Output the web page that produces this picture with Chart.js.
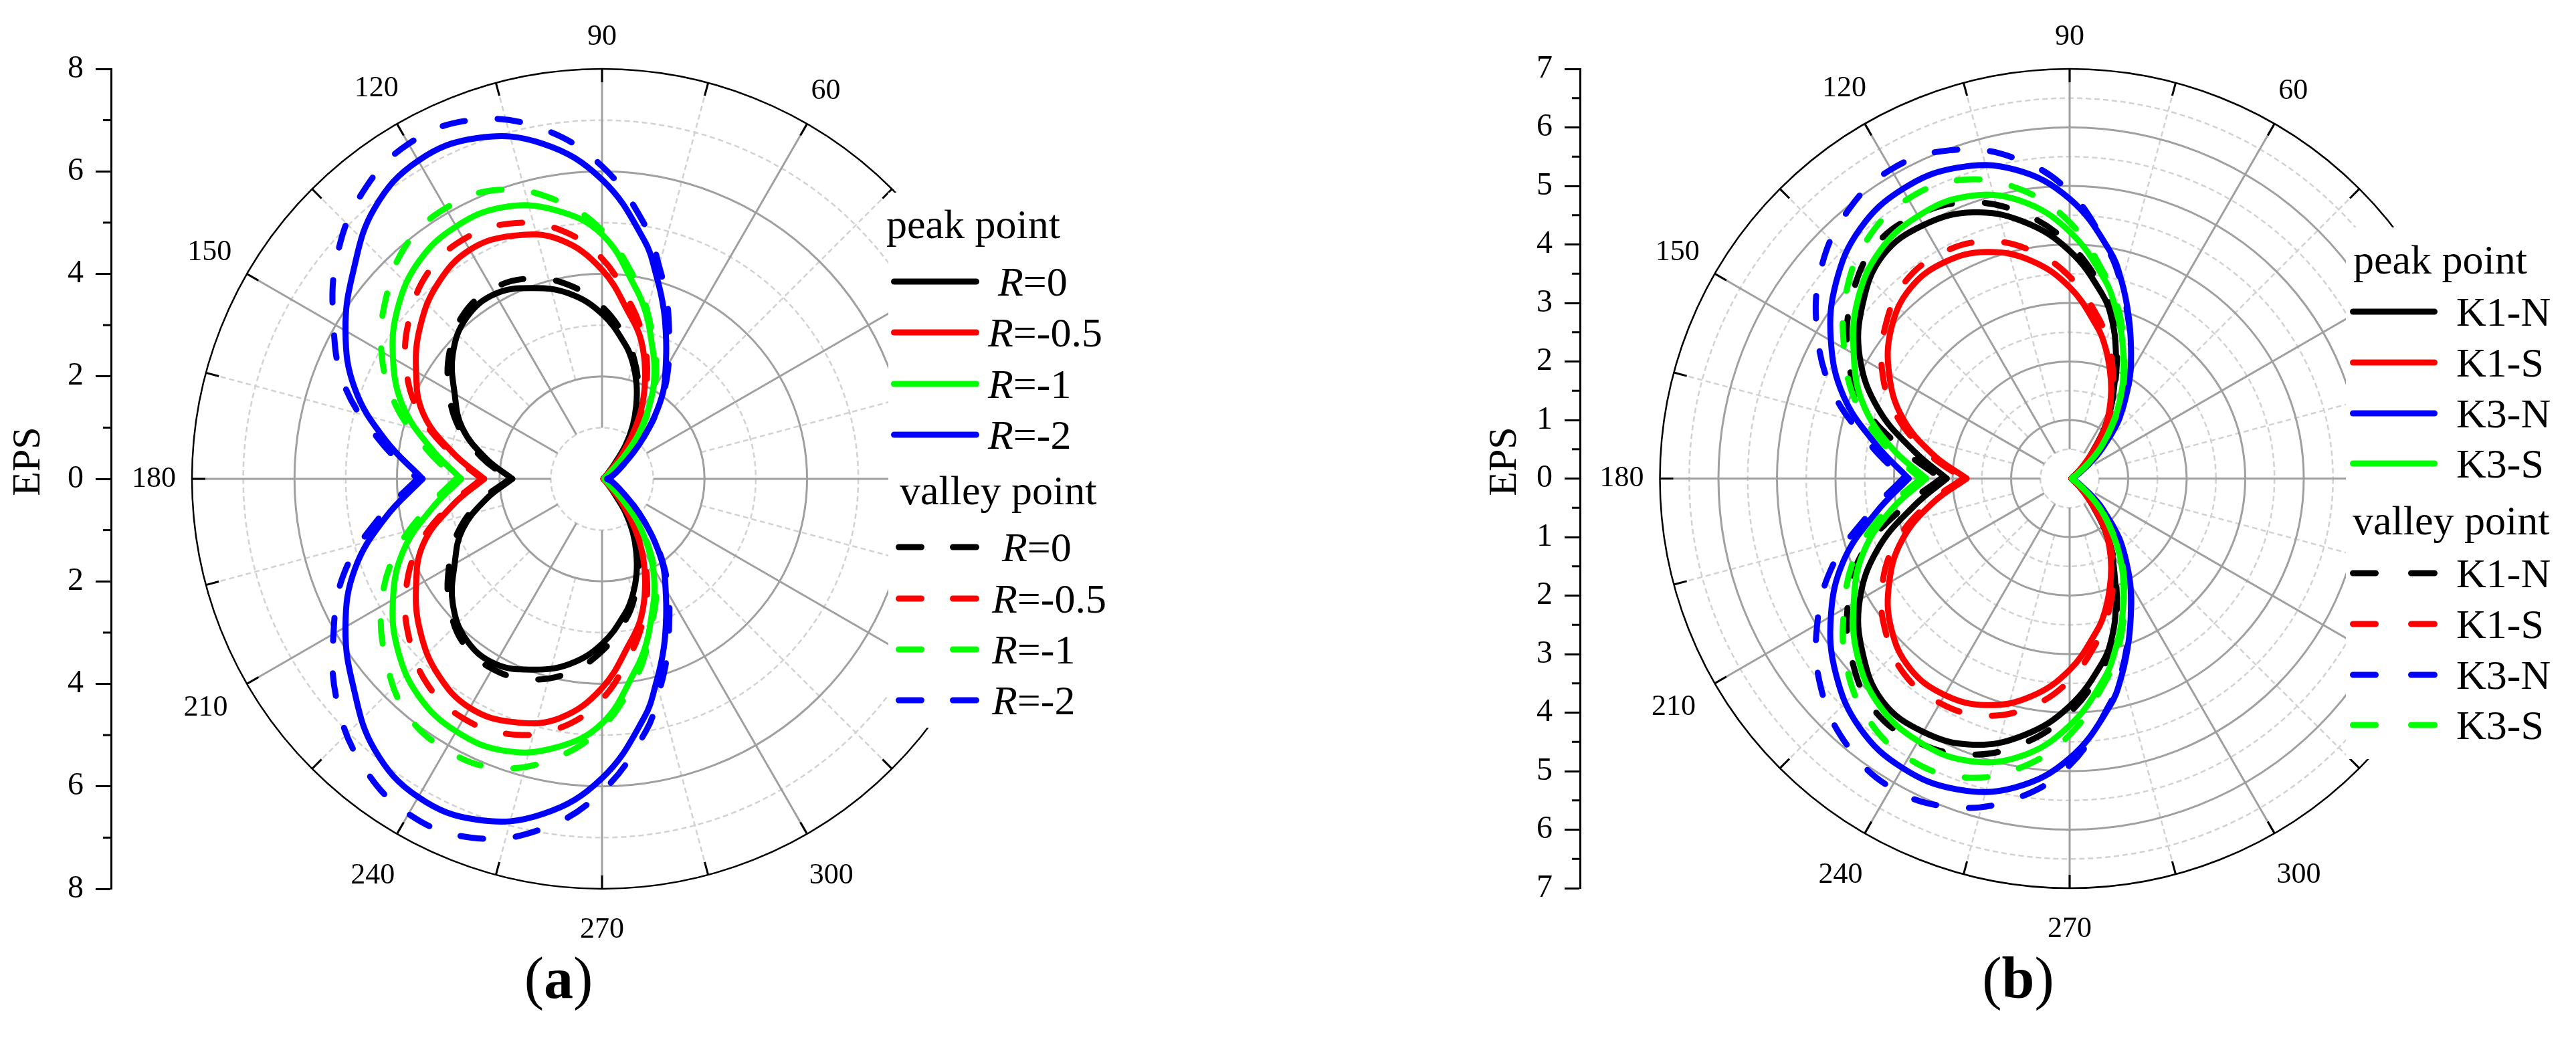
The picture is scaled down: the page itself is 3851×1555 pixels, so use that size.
<!DOCTYPE html>
<html>
<head>
<meta charset="utf-8">
<script src="https://cdn.jsdelivr.net/npm/chart.js@4.4.1/dist/chart.umd.min.js"></script>
<style>
  html, body { margin: 0; padding: 0; background: #fff; }
  #wrap { position: relative; width: 3851px; height: 1555px; background: #fff; }
  canvas { position: absolute; top: 0; }
  #chartA { left: 0; }
  #chartB { left: 1925px; }
</style>
</head>
<body>
<div id="wrap">
  <canvas id="chartA" width="1925" height="1555"></canvas>
  <canvas id="chartB" width="1926" height="1555"></canvas>
</div>
<script>
// polar angle of every sample (degrees), shared by all series
const angles = [0, 15, 30, 40, 45, 50, 55, 60, 65, 70, 75, 80, 90, 100, 110, 120, 130, 140, 150, 160, 170, 180,
  190, 200, 210, 220, 230, 240, 250, 260, 270, 280, 285, 290, 295, 300, 305, 310, 315, 320, 330, 345, 360];

// ---- panel (a): EPS for R values ----
const peakR0 = [0.03,0.03,0.06,0.12,0.2,0.38,0.8,1.2,1.58,1.97,2.33,2.65,3.22,3.67,3.96,4.17,4.11,3.8,3.32,2.9,2.3,1.75,
  2.3,2.9,3.32,3.8,4.11,4.17,3.96,3.67,3.22,2.65,2.33,1.97,1.58,1.2,0.8,0.38,0.2,0.12,0.06,0.03,0.03];
const valleyR0 = [0.03,0.03,0.06,0.12,0.2,0.4,0.85,1.28,1.66,2.05,2.42,2.76,3.36,3.85,4.16,4.28,4.2,3.88,3.45,2.98,2.38,1.8,
  2.38,2.98,3.45,3.88,4.2,4.28,4.16,3.85,3.36,2.76,2.42,2.05,1.66,1.28,0.85,0.4,0.2,0.12,0.06,0.03,0.03];
const peakR05 = [0.03,0.03,0.07,0.13,0.25,0.55,1.0,1.5,1.97,2.43,2.87,3.22,4.08,4.74,5.05,5.16,4.98,4.63,4.19,3.71,2.96,2.3,
  2.96,3.71,4.19,4.63,4.98,5.16,5.05,4.74,4.08,3.22,2.87,2.43,1.97,1.5,1.0,0.55,0.25,0.13,0.07,0.03,0.03];
const valleyR05 = [0.03,0.03,0.07,0.13,0.25,0.56,1.04,1.58,2.06,2.54,2.98,3.4,4.3,4.95,5.3,5.4,5.27,4.9,4.42,3.8,3.02,2.35,
  3.02,3.8,4.42,4.9,5.27,5.4,5.3,4.95,4.3,3.4,2.98,2.54,2.06,1.58,1.04,0.56,0.25,0.13,0.07,0.03,0.03];
const peakR1 = [0.05,0.05,0.1,0.22,0.55,1.05,1.5,1.98,2.42,2.83,3.33,3.78,4.77,5.33,5.64,5.69,5.55,5.2,4.71,4.13,3.38,2.75,
  3.38,4.13,4.71,5.2,5.55,5.69,5.64,5.33,4.77,3.78,3.33,2.83,2.42,1.98,1.5,1.05,0.55,0.22,0.1,0.05,0.05];
const valleyR1 = [0.05,0.05,0.1,0.22,0.55,1.07,1.55,2.04,2.5,2.9,3.4,3.9,4.85,5.55,6.0,6.1,5.95,5.5,4.97,4.3,3.5,2.85,
  3.5,4.3,4.97,5.5,5.95,6.1,6.0,5.55,4.85,3.9,3.4,2.9,2.5,2.04,1.55,1.07,0.55,0.22,0.1,0.05,0.05];
const peakR2 = [0.1,0.2,0.4,0.8,1.15,1.6,2.08,2.48,2.96,3.52,4.1,4.73,5.84,6.64,7.08,7.17,6.9,6.33,5.78,5.13,4.28,3.5,
  4.28,5.13,5.78,6.33,6.9,7.17,7.08,6.64,5.84,4.73,4.1,3.52,2.96,2.48,2.08,1.6,1.15,0.8,0.4,0.2,0.1];
const valleyR2 = [0.1,0.2,0.4,0.8,1.15,1.62,2.12,2.6,3.1,3.7,4.3,4.98,6.1,6.95,7.45,7.55,7.28,6.75,6.05,5.35,4.42,3.6,
  4.42,5.35,6.05,6.75,7.28,7.55,7.45,6.95,6.1,4.98,4.3,3.7,3.1,2.6,2.12,1.62,1.15,0.8,0.4,0.2,0.1];
const labelsA = ['R=0', 'R=-0.5', 'R=-1', 'R=-2'];

// ---- panel (b): EPS for K1/K3 specimens ----
const peakK1N = [0.03,0.04,0.08,0.24,0.42,0.63,1.02,1.42,1.82,2.31,2.8,3.2,3.89,4.45,4.84,5.0,4.97,4.62,4.14,3.48,2.7,2.1,
  2.7,3.48,4.14,4.62,4.97,5.0,4.84,4.45,3.89,3.2,2.8,2.31,1.82,1.42,1.02,0.63,0.42,0.24,0.08,0.04,0.03];
const valleyK1N = [0.03,0.04,0.08,0.25,0.43,0.66,1.05,1.46,1.86,2.36,2.86,3.28,4.0,4.6,5.02,5.2,5.18,4.85,4.38,3.78,2.9,2.2,
  2.9,3.78,4.38,4.85,5.18,5.2,5.02,4.6,4.0,3.28,2.86,2.36,1.86,1.46,1.05,0.66,0.43,0.25,0.08,0.04,0.03];
const peakK1S = [0.03,0.04,0.08,0.22,0.38,0.64,1.04,1.36,1.68,2.0,2.34,2.65,3.27,3.78,4.12,4.27,4.24,3.98,3.56,3.04,2.37,1.76,
  2.37,3.04,3.56,3.98,4.24,4.27,4.12,3.78,3.27,2.65,2.34,2.0,1.68,1.36,1.04,0.64,0.38,0.22,0.08,0.04,0.03];
const valleyK1S = [0.03,0.04,0.08,0.22,0.39,0.66,1.07,1.42,1.76,2.12,2.46,2.8,3.45,3.97,4.31,4.43,4.38,4.1,3.7,3.15,2.45,1.82,
  2.45,3.15,3.7,4.1,4.38,4.43,4.31,3.97,3.45,2.8,2.46,2.12,1.76,1.42,1.07,0.66,0.39,0.22,0.08,0.04,0.03];
const peakK3N = [0.05,0.07,0.2,0.6,0.9,1.3,1.66,2.07,2.48,2.95,3.46,3.95,4.78,5.36,5.65,5.71,5.57,5.21,4.71,4.11,3.36,2.75,
  3.36,4.11,4.71,5.21,5.57,5.71,5.65,5.36,4.78,3.95,3.46,2.95,2.48,2.07,1.66,1.3,0.9,0.6,0.2,0.07,0.05];
const valleyK3N = [0.05,0.07,0.2,0.6,0.9,1.3,1.66,2.07,2.48,2.92,3.42,3.92,4.9,5.57,5.97,6.1,5.93,5.55,4.98,4.3,3.48,2.85,
  3.48,4.3,4.98,5.55,5.93,6.1,5.97,5.57,4.9,3.92,3.42,2.92,2.48,2.07,1.66,1.3,0.9,0.6,0.2,0.07,0.05];
const peakK3S = [0.04,0.05,0.15,0.45,0.75,1.05,1.42,1.8,2.18,2.6,3.02,3.45,4.22,4.82,5.13,5.18,5.06,4.73,4.26,3.76,3.1,2.45,
  3.1,3.76,4.26,4.73,5.06,5.18,5.13,4.82,4.22,3.45,3.02,2.6,2.18,1.8,1.42,1.05,0.75,0.45,0.15,0.05,0.04];
const valleyK3S = [0.04,0.05,0.15,0.45,0.76,1.07,1.45,1.84,2.22,2.66,3.1,3.52,4.38,5.03,5.43,5.52,5.36,4.98,4.45,3.9,3.2,2.55,
  3.2,3.9,4.45,4.98,5.36,5.52,5.43,5.03,4.38,3.52,3.1,2.66,2.22,1.84,1.45,1.07,0.76,0.45,0.15,0.05,0.04];
const labelsB = ['K1-N', 'K1-S', 'K3-N', 'K3-S'];

const FONT = '"Liberation Serif", "Times New Roman", serif';
Chart.defaults.font.family = FONT;
Chart.defaults.color = '#000';

const HALF = angles.indexOf(180);

function polarPoints(r, from, to) {
    const pts = [];
    for (let i = from; i <= to; i++) {
        const a = angles[i] * Math.PI / 180;
        pts.push({ x: r[i] * Math.cos(a), y: r[i] * Math.sin(a) });
    }
    return pts;
}

// each curve is split at 180 deg so the notch stays sharp
function buildDatasets(series) {
    const sets = [];
    series.forEach(s => {
        [[0, HALF], [HALF, angles.length - 1]].forEach(([a, b]) => {
            sets.push({
                label: s.label,
                data: polarPoints(s.r, a, b),
                showLine: true,
                pointRadius: 0,
                borderColor: s.color,
                borderWidth: 9,
                borderDash: s.dashed ? [34, 49] : [],
                borderCapStyle: 'round',
                borderJoinStyle: 'round',
                tension: 0.4,
                fill: false
            });
        });
    });
    return sets.reverse(); // first series ends up at the bottom
}

// circles, spokes and angle labels of the polar frame
const polarGrid = {
    id: 'polarGrid',
    beforeDatasetsDraw(chart, args, o) {
        const { ctx, scales: { x, y } } = chart;
        const cx = x.getPixelForValue(0), cy = y.getPixelForValue(0);
        const ppu = cy - y.getPixelForValue(1);
        const R = o.rMax * ppu;
        const circle = r => { ctx.beginPath(); ctx.arc(cx, cy, r, 0, Math.PI * 2); ctx.stroke(); };
        const spoke = (deg, r1, r2) => {
            const a = deg * Math.PI / 180;
            ctx.beginPath();
            ctx.moveTo(cx + r1 * Math.cos(a), cy - r1 * Math.sin(a));
            ctx.lineTo(cx + r2 * Math.cos(a), cy - r2 * Math.sin(a));
            ctx.stroke();
        };
        ctx.save();
        ctx.strokeStyle = '#d2d2d2';
        ctx.lineWidth = 2.5;
        ctx.setLineDash([8, 5]);
        for (let v = o.minor; v < o.rMax; v += o.major) circle(v * ppu);
        for (let a = 15; a < 360; a += 30) spoke(a, o.major * ppu, R);
        ctx.setLineDash([]);
        ctx.strokeStyle = '#a0a0a0';
        ctx.lineWidth = 3;
        for (let v = o.major; v < o.rMax - 1e-6; v += o.major) circle(v * ppu);
        for (let a = 0; a < 360; a += 30) spoke(a, o.minor * ppu, R);
        ctx.strokeStyle = '#000';
        ctx.lineWidth = 2.5;
        circle(R);
        ctx.lineWidth = 3;
        for (let a = 0; a < 360; a += 15) spoke(a, R - 20, R);
        ctx.fillStyle = '#000';
        ctx.font = '44px ' + FONT;
        ctx.textAlign = 'center';
        ctx.textBaseline = 'middle';
        for (let a = 0; a < 360; a += 30) {
            const t = a * Math.PI / 180, c = Math.cos(t), s = Math.sin(t);
            const w = ctx.measureText(String(a)).width;
            const d = R + 24 + (s > 0 ? 7 : 20) * Math.abs(s) + Math.abs(c) * w / 2 + Math.abs(s) * 17;
            ctx.fillText(String(a), cx + d * c, cy - d * s);
        }
        ctx.restore();
    }
};

// minor ticks, axis title, panel tag and the two-part legend
const figureDecor = {
    id: 'figureDecor',
    afterDraw(chart, args, o) {
        const { ctx, chartArea, scales: { y } } = chart;
        ctx.save();
        ctx.strokeStyle = '#000';
        ctx.lineWidth = 3;
        for (let v = -o.rMax + o.minor; v < o.rMax; v += o.major) {
            const py = y.getPixelForValue(v);
            ctx.beginPath();
            ctx.moveTo(chartArea.left, py);
            ctx.lineTo(chartArea.left - 12, py);
            ctx.stroke();
        }
        ctx.fillStyle = '#000';
        // EPS
        ctx.save();
        ctx.translate(o.titleX, o.titleY);
        ctx.rotate(-Math.PI / 2);
        ctx.font = '60px ' + FONT;
        ctx.textAlign = 'center';
        ctx.textBaseline = 'middle';
        ctx.fillText('EPS', 0, 0);
        ctx.restore();
        // (a) / (b)
        ctx.textBaseline = 'alphabetic';
        ctx.textAlign = 'left';
        ctx.font = '88px ' + FONT;
        const wp = ctx.measureText('(').width;
        ctx.font = 'bold 88px ' + FONT;
        const wl = ctx.measureText(o.tag).width;
        let tx = o.tagX - (2 * wp + wl) / 2;
        ctx.font = '88px ' + FONT;
        ctx.fillText('(', tx, o.tagY);
        ctx.font = 'bold 88px ' + FONT;
        ctx.fillText(o.tag, tx + wp, o.tagY);
        ctx.font = '88px ' + FONT;
        ctx.fillText(')', tx + wp + wl, o.tagY);
        // legend
        const L = o.legend;
        ctx.fillStyle = '#fff';
        ctx.fillRect(L.box[0], L.box[1], L.box[2], L.box[3]);
        ctx.fillStyle = '#000';
        ctx.font = '62px ' + FONT;
        ctx.fillText('peak point', L.headX[0], L.headY[0] + 14);
        ctx.fillText('valley point', L.headX[1], L.headY[1] + 14);
        [false, true].forEach((dashed, g) => {
            L.labels.forEach((lab, i) => {
                const ry = L.rows[g][i];
                ctx.strokeStyle = L.colors[i];
                ctx.lineWidth = 9;
                ctx.lineCap = 'round';
                ctx.beginPath();
                if (dashed) {
                    const [x1, x2] = L.dashX;
                    ctx.moveTo(x1 + 4.5, ry); ctx.lineTo(x1 + 38.5, ry);
                    ctx.moveTo(x2 - 39.5, ry); ctx.lineTo(x2 - 4.5, ry);
                } else {
                    ctx.moveTo(L.lineX[0] + 4.5, ry); ctx.lineTo(L.lineX[1] - 4.5, ry);
                }
                ctx.stroke();
                const tx0 = L.textX[g][i], base = ry + 21;
                ctx.fillStyle = '#000';
                if (L.italicFirst) {
                    ctx.font = 'italic 62px ' + FONT;
                    ctx.fillText(lab[0], tx0, base);
                    const w = ctx.measureText(lab[0]).width;
                    ctx.font = '62px ' + FONT;
                    ctx.fillText(lab.slice(1), tx0 + w, base);
                } else {
                    ctx.font = '62px ' + FONT;
                    ctx.fillText(lab, tx0, base);
                }
            });
        });
        ctx.restore();
    }
};

function makeChart(id, cfg) {
    const top = 103;
    const ppu = (cfg.bottom - top) / (2 * cfg.rMax);
    const xHalf = (cfg.cx - cfg.left) / ppu;
    const canvas = document.getElementById(id);
    return new Chart(canvas.getContext('2d'), {
        type: 'scatter',
        data: { datasets: buildDatasets(cfg.series) },
        options: {
            responsive: false,
            animation: false,
            devicePixelRatio: 1,
            events: [],
            layout: {
                padding: { left: 0, top: top, right: canvas.width - (cfg.cx + (cfg.cx - cfg.left)), bottom: canvas.height - cfg.bottom }
            },
            plugins: {
                legend: { display: false },
                tooltip: { enabled: false },
                polarGrid: { rMax: cfg.rMax, major: cfg.major, minor: cfg.minor },
                figureDecor: {
                    rMax: cfg.rMax, major: cfg.major, minor: cfg.minor,
                    titleX: cfg.titleX, titleY: 690,
                    tag: cfg.tag, tagX: cfg.tagX, tagY: 1492,
                    legend: cfg.legend
                }
            },
            scales: {
                x: { type: 'linear', display: false, min: -xHalf, max: xHalf },
                y: {
                    type: 'linear',
                    position: 'left',
                    min: -cfg.rMax,
                    max: cfg.rMax,
                    afterFit: s => { s.width = cfg.left; },
                    ticks: {
                        stepSize: cfg.major,
                        autoSkip: false,
                        padding: 18,
                        color: '#000',
                        font: { size: 48 },
                        callback: v => Math.abs(v)
                    },
                    grid: { drawOnChartArea: false, drawTicks: true, tickLength: 23, tickWidth: 3, tickColor: '#000' },
                    border: { display: true, color: '#000', width: 3 }
                }
            }
        },
        plugins: [polarGrid, figureDecor]
    });
}

const colorsA = ['#000000', '#ff0000', '#00ff00', '#0000ff'];
const peaksA = [peakR0, peakR05, peakR1, peakR2];
const valleysA = [valleyR0, valleyR05, valleyR1, valleyR2];
const seriesA = [];
labelsA.forEach((lab, i) => {
    seriesA.push({ label: 'peak ' + lab, r: peaksA[i], color: colorsA[i], dashed: false });
    seriesA.push({ label: 'valley ' + lab, r: valleysA[i], color: colorsA[i], dashed: true });
});

const colorsB = ['#000000', '#ff0000', '#0000ff', '#00ff00'];
const peaksB = [peakK1N, peakK1S, peakK3N, peakK3S];
const valleysB = [valleyK1N, valleyK1S, valleyK3N, valleyK3S];
const seriesB = [];
labelsB.forEach((lab, i) => {
    seriesB.push({ label: 'peak ' + lab, r: peaksB[i], color: colorsB[i], dashed: false });
    seriesB.push({ label: 'valley ' + lab, r: valleysB[i], color: colorsB[i], dashed: true });
});

makeChart('chartA', {
    series: seriesA, rMax: 8, major: 2, minor: 1,
    left: 166, cx: 900, bottom: 1329,
    titleX: 43, tag: 'a', tagX: 835,
    legend: {
        box: [1328, 288, 420, 800],
        headX: [1325, 1345], headY: [342, 740],
        rows: [[421, 497, 574, 650], [818, 895, 971, 1047]],
        lineX: [1332, 1464], dashX: [1339, 1464],
        textX: [[1492, 1477, 1477, 1477], [1498, 1483, 1483, 1483]],
        labels: labelsA, colors: colorsA, italicFirst: true
    }
});

makeChart('chartB', {
    series: seriesB, rMax: 7, major: 1, minor: 0.5,
    left: 437, cx: 1169, bottom: 1328,
    titleX: 325, tag: 'b', tagX: 1092,
    legend: {
        box: [1582, 340, 344, 795],
        headX: [1593, 1592], headY: [395, 785],
        rows: [[466, 542, 618, 693], [857, 933, 1009, 1084]],
        lineX: [1588, 1719], dashX: [1588, 1719],
        textX: [[1747, 1747, 1747, 1747], [1747, 1747, 1747, 1747]],
        labels: labelsB, colors: colorsB, italicFirst: false
    }
});
</script>
</body>
</html>
